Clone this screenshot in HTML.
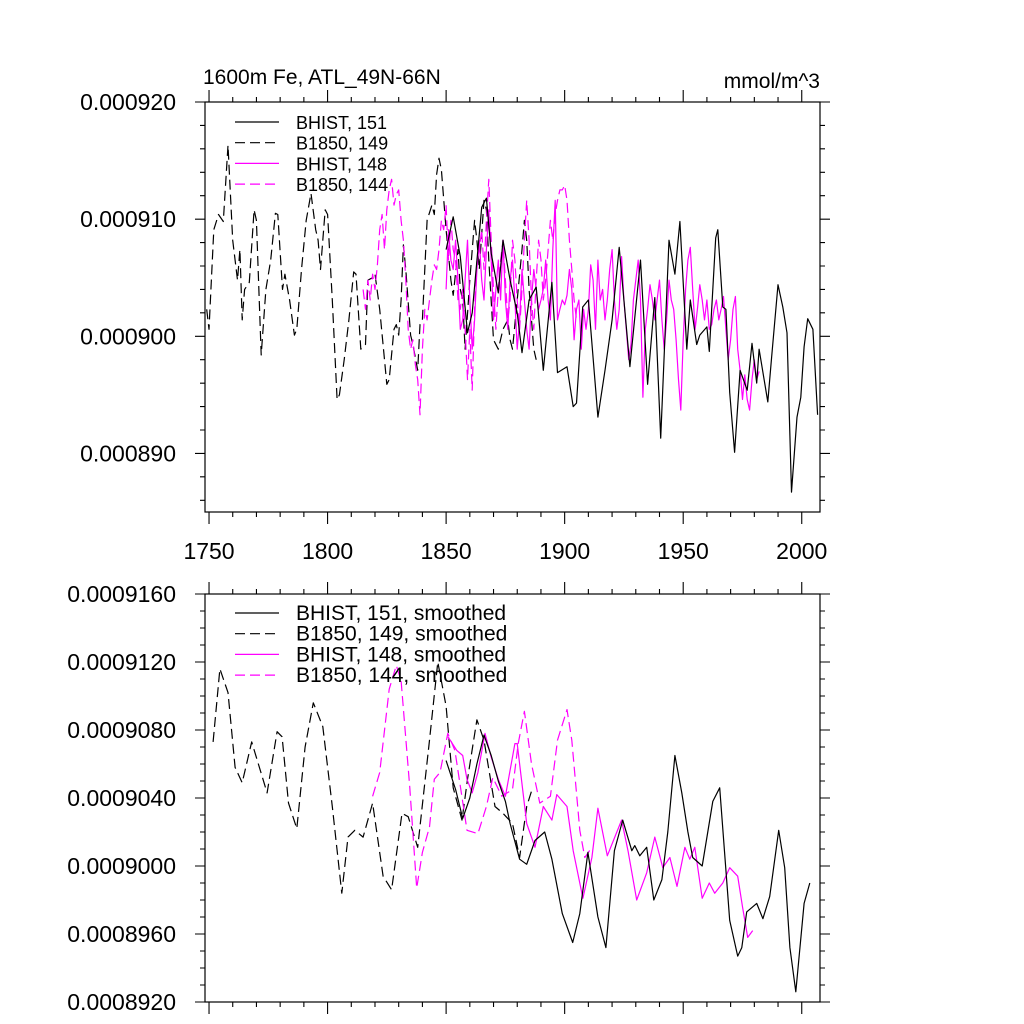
<!DOCTYPE html>
<html><head><meta charset="utf-8"><style>
html,body{margin:0;padding:0;background:#fff;}
svg{display:block;font-family:"Liberation Sans",Arial,sans-serif;}
</style></head><body>
<svg id="chart" width="1024" height="1024" viewBox="0 0 1024 1024">
<text x="203" y="84" font-size="21">1600m Fe, ATL_49N-66N</text>
<text x="820" y="88" font-size="21" text-anchor="end">mmol/m^3</text>
<g id="top"></g>
<g id="bot"></g>
</svg>
<script>
// ---- data (values in units of 1e-6 mmol/m^3) ----
const xTickYears = [1750,1800,1850,1900,1950,2000];
const topYTicks = [920,910,900,890];
const topYLabels = ["0.000920","0.000910","0.000900","0.000890"];
const botYTicks = [916,912,908,904,900,896,892];
const botYLabels = ["0.0009160","0.0009120","0.0009080","0.0009040","0.0009000","0.0008960","0.0008920"];

const bd149Years = [1749,1750,1752,1754,1756,1758,1760,1762,1763,1764,1765,1767,1769,1770,1772,1774,1776,1778,1779,1781,1782,1784,1786,1787,1789,1791,1793,1795,1796,1797,1799,1800,1802,1804,1805,1807,1809,1811,1812,1814,1816,1817,1819,1820,1822,1824,1825,1826,1828,1829,1830,1831,1832,1833,1835,1836,1838,1839,1840,1842,1844,1845,1846,1847,1848,1850,1852,1853,1855,1856,1857,1858,1860,1862,1863,1864,1866,1867,1868,1870,1872,1874,1876,1877,1878,1880,1882,1883,1884,1885,1886,1887,1888];
const bd149Vals = [902.3,900.6,909.1,910.4,909.8,916.3,908.2,904.8,907.4,901.4,904.0,904.6,910.8,909.9,898.4,904.0,906.5,910.5,910.4,904.0,905.3,903.1,900.1,900.6,905.7,909.9,912.2,909.1,908.2,905.7,910.8,910.4,903.1,894.6,895.0,898.0,901.4,905.5,905.3,898.9,899.3,904.8,905.0,905.3,902.3,898.0,895.9,896.3,900.6,901.0,900.1,903.1,907.8,905.7,900.1,899.3,897.1,901.0,901.4,909.9,911.2,910.4,913.8,915.2,914.2,909.1,904.8,903.5,907.4,904.0,903.1,898.9,904.8,909.9,908.2,905.7,911.6,910.8,906.5,899.7,898.9,900.6,901.4,899.7,898.9,903.1,907.4,909.9,908.2,904.0,901.4,898.9,898.0];

const md144Start = 1815;
const md144Vals = [904.0,902.3,904.8,903.1,905.3,904.0,906.1,909.1,910.4,907.4,
910.8,912.5,913.4,911.2,912.1,912.5,909.9,908.2,904.8,900.6,
898.9,899.7,897.6,896.3,893.3,898.9,902.3,901.4,903.1,904.8,
906.1,905.7,907.4,909.9,909.1,911.2,906.5,909.9,907.4,906.5,
903.1,902.3,904.0,900.6,896.3,900.6,895.4,902.3,906.5,907.4,
909.1,905.7,909.9,913.4,908.2,904.0,900.6,904.0,906.5,908.2,
904.8,901.4,903.1,908.2,906.5,903.1,900.6,904.0,908.2,911.6,
908.2,903.1,900.6,904.8,908.2,906.5,903.1,904.8,907.4,909.9,
908.2,910.4,911.6,912.5,912.5,912.9,911.6,908.2,905.7,903.1,901.4];

const ms148Start = 1850;
const ms148Vals = [904.0,909.1,906.5,905.7,908.2,904.8,900.6,901.4,904.8,908.2,
903.1,898.9,901.4,905.7,908.2,904.8,903.1,907.4,910.8,906.5,
901.4,904.0,906.5,903.1,908.2,903.1,900.6,904.8,906.5,903.1,
898.9,901.4,905.7,903.1,900.6,898.9,903.1,905.7,904.0,902.3,
903.1,904.0,906.5,903.1,901.4,907.4,911.6,901.4,902.3,903.1,
902.7,903.5,905.7,904.0,899.7,902.3,903.1,898.9,902.3,900.6,
902.3,906.1,904.8,900.6,906.5,903.1,904.0,901.4,903.1,905.7,
907.4,903.1,900.6,902.3,906.8,903.1,900.6,898.0,899.3,903.1,
904.8,906.5,903.1,894.8,900.6,902.3,904.4,903.1,901.4,903.1,
904.8,901.4,898.9,901.4,904.8,903.1,902.3,899.7,896.3,893.7,
899.7,904.0,906.5,907.6,904.0,900.6,902.3,904.4,903.1,901.4,
903.1,900.6,901.0,902.3,903.1,901.4,902.3,903.4,900.6,898.0,
899.7,902.3,903.4,898.9,897.1,894.6,896.7,894.6,893.7,896.3,
898.0,896.3,897.0];

const bs151Years = [1850,1853,1856,1859,1861,1865,1867,1869,1872,1874,1877,1880,1882,1885,1888,1891,1894.6,1897,1901,1903.6,1905,1907.6,1910,1914,1917,1920,1923,1925,1927.5,1932,1935,1938,1940.5,1944,1946.5,1948.6,1951.5,1953,1955.7,1957,1960,1961,1963.7,1964.6,1966.7,1968,1969.6,1971.7,1974,1977,1979,1981,1982,1985.7,1987.3,1990,1992,1993.8,1995.7,1998,1999.6,2001,2002.5,2004.7,2006.7];
const bs151Vals = [907.4,910.2,906.8,900.3,902.0,911.0,911.8,907.1,903.7,908.2,904.8,902.0,898.6,903.1,904.2,897.1,904.6,896.9,897.4,894.0,894.3,902.5,903.1,893.1,897.1,901.4,907.6,903.1,897.4,906.5,895.9,903.3,891.3,908.2,905.3,909.8,898.9,903.1,899.3,900.1,900.8,898.7,908.4,909.1,902.5,902.3,895.2,890.1,897.1,895.4,899.4,896.0,898.9,894.4,898.2,904.4,902.5,900.3,886.7,893.1,894.8,899.1,901.5,900.6,893.3];

// smoothed
const sbdYears = [1751.7,1754.6,1758,1761,1764,1768,1774.5,1778.7,1780.8,1783.5,1787,1790.5,1794,1798,1802,1806,1808.6,1811.5,1815,1819,1823.4,1827,1831.4,1834,1838,1843,1846.5,1850,1853,1856.7,1859,1863,1866,1870.6,1874,1878,1881,1884,1886];
const sbdVals = [907.3,911.6,910.2,905.8,904.9,907.3,904.3,907.9,907.6,903.7,902.2,907.0,909.6,908.2,903.5,898.4,901.7,902.1,901.7,903.7,899.4,898.6,903.1,902.9,901.1,907.4,912.0,909.4,904.6,902.7,905.1,908.6,907.4,903.5,903.1,902.5,900.5,903.5,904.4];
const smdYears = [1819,1822,1826,1829,1831,1834.7,1837.6,1840,1843,1845,1847.4,1850.7,1853.7,1858.8,1863.4,1867,1869.7,1873.5,1878,1880.4,1883,1886,1889.5,1894,1897,1901,1903,1906.4,1908.5,1911.5];
const smdVals = [904.1,905.5,910.4,911.8,910.9,904.6,898.7,900.8,902.3,905.1,905.5,907.8,906.8,902.1,901.9,903.5,905.2,904.1,904.5,907.2,909.1,906.0,903.7,904.1,907.4,909.2,907.4,902.1,900.5,901.1];
const smsYears = [1850.8,1854.5,1857,1858.8,1861,1863.4,1866.4,1869,1872,1875,1879,1880,1884,1887.5,1891,1894.6,1896.7,1901,1903.6,1907.7,1911.5,1914,1918,1924,1926.7,1930.4,1934.6,1938,1941.4,1944.4,1947.4,1950.7,1952.8,1954.9,1958,1961,1963.3,1966.7,1969.6,1973,1975,1977.2,1979.3];
const smsVals = [907.6,906.8,906.5,905.1,904.3,905.5,907.8,906.4,905.1,904.1,907.2,907.2,902.5,901.1,903.5,902.7,904.2,903.5,900.9,898.1,900.5,903.4,900.6,902.7,900.9,898.0,899.6,901.7,899.9,900.5,898.8,901.1,900.4,901.1,898.1,899.0,898.4,899.0,899.9,899.4,897.6,895.8,896.2];
const sbsYears = [1850,1854,1857,1860,1863,1866,1869,1872,1875,1877,1881,1884,1887.5,1891.6,1894.6,1899,1903.4,1906.4,1909.8,1914,1917.4,1921,1924.5,1928.3,1929.6,1931.7,1934.6,1937.6,1941,1943.5,1946.5,1949.4,1952,1954,1958,1962.5,1965.4,1969.6,1973,1974.7,1976.8,1981,1983.6,1986.5,1990.3,1992.8,1995,1997.5,2001,2003.4];
const sbsVals = [906.2,904.5,902.8,904.0,906.0,907.7,906.5,905.0,903.8,902.5,900.4,900.1,901.5,902.0,900.4,897.2,895.5,897.2,900.8,897.0,895.2,900.9,902.7,900.9,901.2,900.6,901.1,898.0,899.2,902.0,906.5,904.3,902.0,900.5,900.0,903.8,904.6,896.8,894.7,895.2,897.3,897.8,896.9,898.2,902.1,899.9,895.2,892.6,897.8,899.0];

// ---- layout ----
const NS = "http://www.w3.org/2000/svg";
const X0 = 205, X1 = 820, YR0 = 1748.3, YR1 = 2007.7;
const xs = yr => X0 + (yr - YR0) / (YR1 - YR0) * (X1 - X0);
const topY = v => 102 + (920 - v) / 35 * 410;
const botY = v => 594 + (916 - v) / 24 * 408;

function mk(tag, attrs, parent) {
  const e = document.createElementNS(NS, tag);
  for (const k in attrs) e.setAttribute(k, attrs[k]);
  parent.appendChild(e);
  return e;
}

function panel(g, yT, yB, yfn, yTicks, yLabels, minorStep, vMin, vMax, showXLabels, pfx) {
  const fr = mk('rect', {x:X0, y:yT, width:X1-X0, height:yB-yT, fill:'none', stroke:'#000', 'stroke-width':1.2}, g);
  
  
  let d = '';
  for (let yr = 1750; yr <= 2007; yr += 10) {
    const x = xs(yr); const maj = yr % 50 === 0; const L = maj ? 12 : 5;
    d += `M${x},${yB}v${L}M${x},${yT}v${-L}`;
  }
  for (let v = vMin; v <= vMax + 1e-6; v += minorStep) {
    const y = yfn(v); const maj = yTicks.some(t => Math.abs(t - v) < 1e-6); const L = maj ? 10 : 5;
    d += `M${X0},${y}h${-L}M${X1},${y}h${L}`;
  }
  const tk = mk('path', {d:d, stroke:'#000', 'stroke-width':1.1, fill:'none'}, g);
  
  
  yTicks.forEach((t, i) => {
    const tx = mk('text', {x:176, y:yfn(t)+8, 'font-size':23, 'text-anchor':'end'}, g);
    tx.textContent = yLabels[i];
    
    
  });
  if (showXLabels) xTickYears.forEach(yr => {
    const tx = mk('text', {x:xs(yr), y:559, 'font-size':23, 'text-anchor':'middle'}, g);
    tx.textContent = yr;
    
    
  });
}

function series(g, years, vals, yfn, color, dash, name) {
  const pts = years.map((yr, i) => xs(yr).toFixed(1) + ',' + yfn(vals[i]).toFixed(1)).join(' ');
  const a = {points:pts, fill:'none', stroke:color, 'stroke-width':1.2, 'stroke-linejoin':'round'};
  if (dash) a['stroke-dasharray'] = '10,5';
  const p = mk('polyline', a, g);
  
  
}

function legend(g, y0, labels, pfx, fs) {
  const sty = [['#000',''],['#000','10,5'],['#f0f',''],['#f0f','10,5']];
  labels.forEach((lb, i) => {
    const y = y0 + i * 20.7;
    const a = {x1:235, x2:279, y1:y, y2:y, stroke:sty[i][0], 'stroke-width':1.2};
    if (sty[i][1]) a['stroke-dasharray'] = sty[i][1];
    const ln = mk('line', a, g);
    
    
    const t = mk('text', {x:296, y:y+7, 'font-size':fs}, g);
    t.textContent = lb;
    
    
  });
}

const rng = (s, n) => Array.from({length:n}, (_, i) => s + i);
const gt = document.getElementById('top'), gb = document.getElementById('bot');
panel(gt, 102, 512, topY, topYTicks, topYLabels, 2, 886, 920, true, 'top');
panel(gb, 594, 1002, botY, botYTicks, botYLabels, 1, 892, 916, false, 'bottom');

series(gt, bd149Years, bd149Vals, topY, '#000', true, 'b1850-149-line');
series(gt, rng(md144Start, md144Vals.length), md144Vals, topY, '#f0f', true, 'b1850-144-line');
series(gt, rng(ms148Start, ms148Vals.length), ms148Vals, topY, '#f0f', false, 'bhist-148-line');
series(gt, bs151Years, bs151Vals, topY, '#000', false, 'bhist-151-line');

series(gb, sbdYears, sbdVals, botY, '#000', true, 'b1850-149-smoothed-line');
series(gb, smdYears, smdVals, botY, '#f0f', true, 'b1850-144-smoothed-line');
series(gb, smsYears, smsVals, botY, '#f0f', false, 'bhist-148-smoothed-line');
series(gb, sbsYears, sbsVals, botY, '#000', false, 'bhist-151-smoothed-line');

legend(gt, 122, ["BHIST, 151","B1850, 149","BHIST, 148","B1850, 144"], 'top', 18);
legend(gb, 613, ["BHIST, 151, smoothed","B1850, 149, smoothed","BHIST, 148, smoothed","B1850, 144, smoothed"], 'bottom', 21);
</script>
</body></html>
